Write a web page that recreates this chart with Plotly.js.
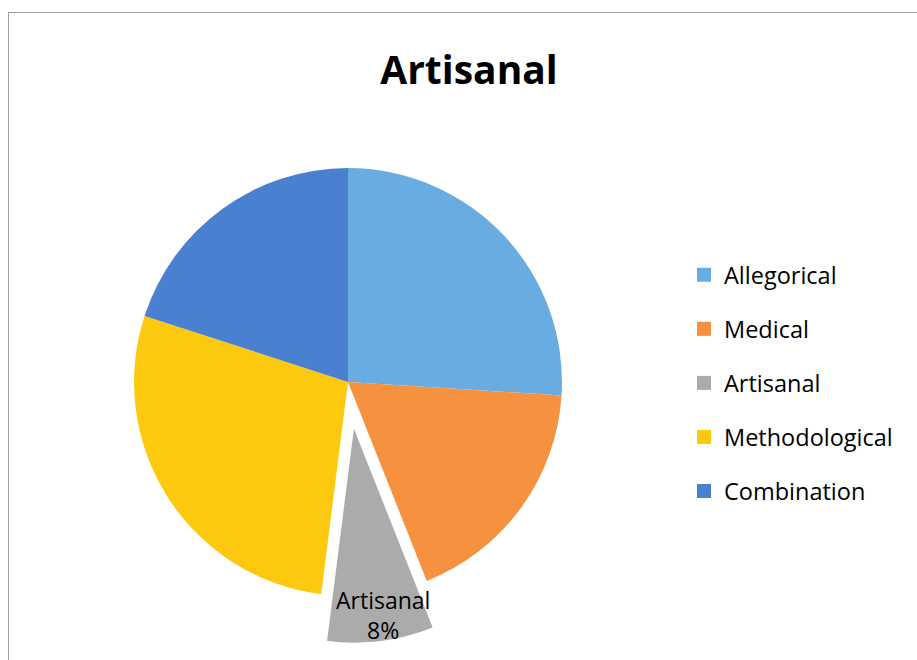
<!DOCTYPE html>
<html>
<head>
<meta charset="utf-8">
<script src="https://cdn.plot.ly/plotly-3.0.1.min.js"></script>
<style>
  html, body { margin: 0; padding: 0; background: #fff; }
  #wrap { position: relative; width: 917px; height: 660px; overflow: hidden; }
  #frame { position: absolute; left: 8px; top: 12px; width: 920px; height: 660px;
           border-top: 1px solid #a0a0a0; border-left: 1px solid #a0a0a0; box-sizing: border-box; }
  #chart { position: absolute; left: 0; top: 0; width: 917px; height: 660px; }
</style>
</head>
<body>
<div id="wrap">
  <div id="frame"></div>
  <div id="chart"></div>
</div>
<script>
const chartTitle = 'Artisanal';
const categories = ['Allegorical', 'Medical', 'Artisanal', 'Methodological', 'Combination'];
const values = [26, 18, 8, 28, 20];
const pulls = [0, 0, 0.22, 0, 0];
const colors = ['#69ace2', '#f6913f', '#ababab', '#fcc90e', '#4a80d0'];
const labeledIndex = 2;

const FONT = '"Open Sans", Lato, sans-serif';
const W = 917, H = 660;

const total = values.reduce((a, b) => a + b, 0);
const pct = Math.round(values[labeledIndex] / total * 100);

const traces = [{
  type: 'pie',
  labels: categories,
  values: values,
  pull: pulls,
  sort: false,
  direction: 'clockwise',
  rotation: 0,
  textinfo: 'none',
  hoverinfo: 'label+percent',
  showlegend: false,
  marker: { colors: colors, line: { width: 0 } },
  domain: { x: [87 / W, 609 / W], y: [1 - 643 / H, 1 - 121 / H] }
}];

categories.forEach((c, i) => {
  traces.push({
    type: 'scatter',
    mode: 'markers',
    x: [-10], y: [-10],
    name: c,
    legendgroup: 'g' + i,
    showlegend: true,
    hoverinfo: 'skip',
    marker: { symbol: 'square', size: 14, color: colors[i] }
  });
});

const layout = {
  width: W, height: H,
  margin: { l: 0, r: 0, t: 0, b: 0 },
  paper_bgcolor: 'rgba(0,0,0,0)',
  plot_bgcolor: 'rgba(0,0,0,0)',
  font: { family: FONT, color: '#000' },
  title: {
    text: '<b>' + chartTitle + '</b>',
    font: { family: FONT, size: 39, color: '#000' },
    x: 469 / W, xanchor: 'center',
    y: 1 - 70 / H, yanchor: 'middle',
    xref: 'paper', yref: 'paper'
  },
  xaxis: { visible: false, range: [0, 1], autorange: false, fixedrange: true },
  yaxis: { visible: false, range: [0, 1], autorange: false, fixedrange: true },
  showlegend: true,
  legend: {
    x: 684 / W, xanchor: 'left',
    y: 1 - 253 / H, yanchor: 'top',
    traceorder: 'grouped',
    tracegroupgap: 20.5,
    font: { family: FONT, size: 23.5, color: '#000' },
    bgcolor: 'rgba(0,0,0,0)',
    itemclick: false, itemdoubleclick: false
  },
  annotations: [{
    text: categories[labeledIndex] + '<br>' + pct + '%',
    xref: 'paper', yref: 'paper',
    x: 383 / W, y: 1 - 615 / H,
    xanchor: 'center', yanchor: 'middle',
    showarrow: false,
    align: 'center',
    font: { family: FONT, size: 23, color: '#000' }
  }]
};

Plotly.newPlot('chart', traces, layout, { displayModeBar: false, staticPlot: true });
</script>
</body>
</html>
